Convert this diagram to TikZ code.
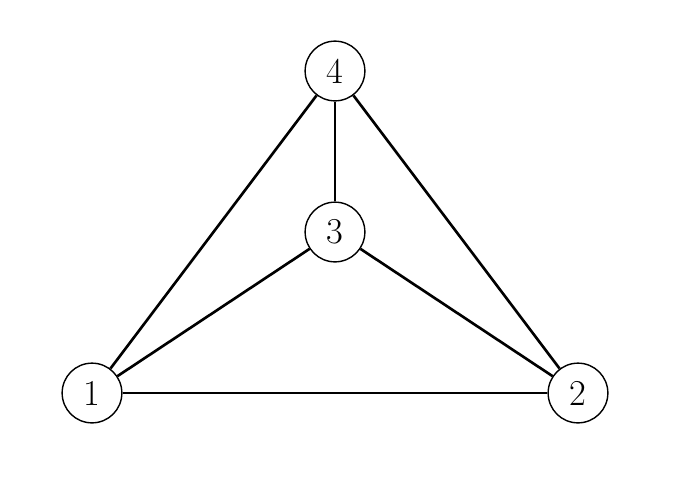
\documentclass[tikz,border=0pt]{standalone}
\usepackage{tikz}

\tikzset{
  vertex/.style={circle,draw,line width=0.8pt,minimum size=34pt,inner sep=0pt,font=\huge},
  edge/.style={line width=1.5pt}
}

\begin{document}
\begin{tikzpicture}[x=0.02cm,y=-0.02cm]
\useasboundingbox (0,0) rectangle (685,481);
\node[vertex] (v1) at (92,393) {1};
\node[vertex] (v2) at (578,393) {2};
\node[vertex] (v3) at (335,232) {3};
\node[vertex] (v4) at (335,71) {4};

\draw[edge] (v1) -- (v2);
\draw[edge] (v1) -- (v3);
\draw[edge] (v1) -- (v4);
\draw[edge] (v2) -- (v3);
\draw[edge] (v2) -- (v4);
\draw[edge] (v3) -- (v4);
\end{tikzpicture}
\end{document}
